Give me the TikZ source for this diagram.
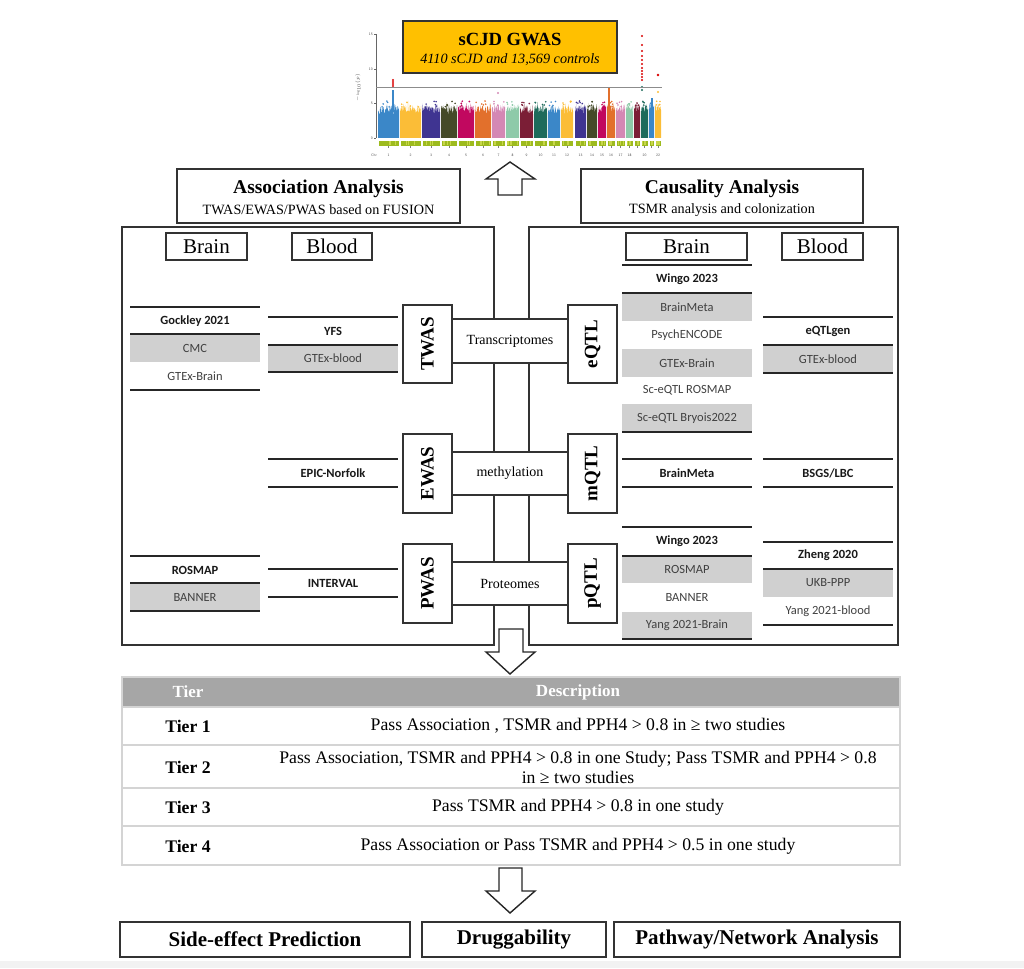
\documentclass[tikz,border=0pt]{standalone}
\usepackage{fontspec}
\setmainfont{Liberation Serif}
\newfontfamily\calib{Carlito}
\definecolor{c1}{HTML}{3B87C8}
\definecolor{c2}{HTML}{FBBD37}
\definecolor{c3}{HTML}{3F3491}
\definecolor{c4}{HTML}{454A28}
\definecolor{c5}{HTML}{C1085F}
\definecolor{c6}{HTML}{E2702C}
\definecolor{c7}{HTML}{D488B4}
\definecolor{c8}{HTML}{8ECAA9}
\definecolor{c9}{HTML}{7B1E36}
\definecolor{c10}{HTML}{1E6B5B}
\definecolor{bandc}{HTML}{9DBB1E}
\definecolor{bandl}{HTML}{C8D64A}
\definecolor{gwasfill}{HTML}{FFC000}
\definecolor{hdrgray}{HTML}{A6A6A6}
\definecolor{rulegray}{HTML}{D4D4D4}
\definecolor{cellgray}{HTML}{D0D0D0}
\newcommand\fsz[2]{\fontsize{#1}{#2}\selectfont}
\begin{document}
\begin{tikzpicture}[x=1pt,y=-1pt,
  box/.style={draw=black!80, line width=1.4pt, fill=white, inner sep=0pt},
  panel/.style={draw=black!80, line width=1.5pt},
  dline/.style={draw=black!85, line width=1.4pt},
  dset/.style={font=\calib\fsz{12.5}{14}, text=black!75},
  dsetb/.style={font=\calib\bfseries\fsz{12.5}{14}, text=black!90},
  omicsv/.style={font=\bfseries\fsz{19}{20}, rotate=90},
  omicsh/.style={font=\fsz{14}{16}},
  tissue/.style={font=\fsz{21}{23}},
  arrowst/.style={draw=black!85, line width=1.4pt, fill=white, line join=miter},
  tabtxt/.style={font=\fsz{17.7}{20}, align=center},
  tabtier/.style={font=\bfseries\fsz{17.7}{20}},
  tiny/.style={font=\sffamily\fsz{3.6}{4}, text=black!70, inner sep=0.5pt}
]
\useasboundingbox (0,0) rectangle (1024,968);
\fill[black!5] (0,961) rectangle (1024,968);

% ---------------- Manhattan plot ----------------
\pgfmathsetseed{11}
\foreach \xa/\xb/\cc in {378/399/c1,400/421/c2,422/440/c3,441/457/c4,458/474/c5,475/491/c6,492/505/c7,506/519/c8,520/533/c9,534/547/c10,548/560/c1,561/573/c2,575/586/c3,587/597/c4,598/606/c5,607/615/c6,616/625/c7,626/633/c8,634/640/c9,641/648/c10,649/654/c1,655/661/c2}{
  \fill[\cc] (\xa,138) \foreach \k in {0,...,60}{ -- ({\xa+\k*(\xb-\xa)/60},{138-23-9*rnd-9*rnd*rnd*rnd}) } -- (\xb,138) -- cycle;
  \foreach \j in {1,...,5}{ \fill[\cc] ({\xa+1+rnd*(\xb-\xa-2)},{138-31-6*rnd}) circle (0.9); }
  \fill[bandc] (\xa+0.5,141) rectangle (\xb-0.5,146);
  \foreach \j in {1,...,3}{ \fill[bandl] ({\xa+1+rnd*(\xb-\xa-3)},141.5) rectangle ++(1.2,4); }
  \draw[black!50, line width=0.3pt] ({(\xa+\xb)/2},146) -- ({(\xa+\xb)/2},148.5);
}
% extra peaks
\draw[c1, line width=1.6pt] (393,112) -- (393,90);
\foreach \yy in {80,82,84,86}{\fill[red!85!black] (393,\yy) circle (1.1);}
\fill[c7] (498,93) circle (1.1);
\draw[c6, line width=1.4pt] (609,112) -- (609,88);
\foreach \yy in {36,45,51,56,60,64,68,71,74,77,80}{\fill[red!85!black] (642,\yy) circle (1.1);}
\fill[c10] (642,87) circle (1.1); \fill[c10] (642,90) circle (1.1);
\fill[red!85!black] (658,75) circle (1.3);
\fill[c2] (658,92) circle (1.1);
\draw[c1, line width=1.3pt] (652,112) -- (652,98);
% axes
\draw[black!60, line width=0.4pt] (376,34) -- (376,138);
\foreach \yy/\lab in {34/15,69/10,103/5,138/0}{
  \draw[black!60, line width=0.4pt] (374,\yy) -- (376,\yy);
  \node[tiny, anchor=east] at (373.5,\yy) {\lab};
}
\draw[black!45, line width=0.5pt] (376,87) -- (662,87);
\node[tiny, rotate=90] at (358,88) {$-\log_{10}(p)$};
\node[tiny] at (374,155) {Chr};
\foreach \xa/\xb/\lab in {378/399/1,400/421/2,422/440/3,441/457/4,458/474/5,475/491/6,492/505/7,506/519/8,520/533/9,534/547/10,548/560/11,561/573/12,575/586/13,587/597/14,598/606/15,607/615/16,616/625/17,626/633/18,641/648/20,655/661/22}{
  \node[tiny] at ({(\xa+\xb)/2},155) {\lab};
}

% GWAS box
\node[draw=black!80, line width=1.5pt, fill=gwasfill, minimum width=214pt, minimum height=52pt, inner sep=0pt] (gwas) at (510,47) {};
\node[font=\bfseries\fsz{18.6}{20}] (gwast) at (510,39) {sCJD GWAS};
\node[font=\itshape\fsz{14.2}{16}] (gwass) at (510,60) {4110 sCJD and 13,569 controls};

% up arrow
\draw[arrowst] (498,195) -- (498,179) -- (486,179) -- (510,162) -- (535,179) -- (522,179) -- (522,195) -- cycle;

% analysis boxes
\node[box, minimum width=283pt, minimum height=54pt] (assoc) at (318.5,196) {};
\node[font=\bfseries\fsz{19.5}{21}] at (318.5,189) {Association Analysis};
\node[font=\fsz{14.2}{16}] at (318.5,210) {TWAS/EWAS/PWAS based on FUSION};
\node[box, minimum width=282pt, minimum height=54pt] (caus) at (722,196) {};
\node[font=\bfseries\fsz{19.5}{21}] at (722,189) {Causality Analysis};
\node[font=\fsz{14.2}{16}] at (722,210) {TSMR analysis and colonization};

% panels
\draw[panel] (122,227) rectangle (494,645);
\draw[panel] (529,227) rectangle (898,645);

% tissue labels
\node[box, minimum width=81pt, minimum height=27pt, tissue] (brainL) at (206.5,246.5) {Brain};
\node[box, minimum width=80pt, minimum height=27pt, tissue] (bloodL) at (332,246.5) {Blood};
\node[box, minimum width=121pt, minimum height=27pt, tissue] (brainR) at (686.5,246.5) {Brain};
\node[box, minimum width=81pt, minimum height=27pt, tissue] (bloodR) at (822.5,246.5) {Blood};

% omics boxes
\node[box, minimum width=49pt, minimum height=78pt] (twas) at (427.5,344) {};
\node[omicsv] at (twas.center) {TWAS};
\node[box, minimum width=116pt, minimum height=44pt, omicsh] (trans) at (510,341) {Transcriptomes};
\node[box, minimum width=49pt, minimum height=78pt] (eqtl) at (592.5,344) {};
\node[omicsv] at (eqtl.center) {eQTL};

\node[box, minimum width=49pt, minimum height=79pt] (ewas) at (427.5,473.5) {};
\node[omicsv] at (ewas.center) {EWAS};
\node[box, minimum width=116pt, minimum height=43pt, omicsh] (meth) at (510,473.5) {methylation};
\node[box, minimum width=49pt, minimum height=79pt] (mqtl) at (592.5,473.5) {};
\node[omicsv] at (mqtl.center) {mQTL};

\node[box, minimum width=49pt, minimum height=79pt] (pwas) at (427.5,583.5) {};
\node[omicsv] at (pwas.center) {PWAS};
\node[box, minimum width=116pt, minimum height=43pt, omicsh] (prot) at (510,583.5) {Proteomes};
\node[box, minimum width=49pt, minimum height=79pt] (pqtl) at (592.5,583.5) {};
\node[omicsv] at (pqtl.center) {pQTL};

% ---------- datasets: left brain (130-260) ----------
\fill[cellgray] (130,334) rectangle (260,362);
\draw[dline] (130,307) -- (260,307); \draw[dline] (130,334) -- (260,334); \draw[dline] (130,390) -- (260,390);
\node[dsetb] (gock) at (195,321) {Gockley 2021};
\node[dset] (cmc) at (195,348) {CMC};
\node[dset] (gtexbL) at (195,376) {GTEx-Brain};

\fill[cellgray] (130,583) rectangle (260,611);
\draw[dline] (130,556) -- (260,556); \draw[dline] (130,583) -- (260,583); \draw[dline] (130,611) -- (260,611);
\node[dsetb] (rosL) at (195,570) {ROSMAP};
\node[dset] (banL) at (195,597) {BANNER};

% ---------- left blood (268-398) ----------
\fill[cellgray] (268,345) rectangle (398,372);
\draw[dline] (268,317) -- (398,317); \draw[dline] (268,345) -- (398,345); \draw[dline] (268,372) -- (398,372);
\node[dsetb] (yfs) at (333,331) {YFS};
\node[dset] (gtexblL) at (333,358.5) {GTEx-blood};

\draw[dline] (268,459) -- (398,459); \draw[dline] (268,487) -- (398,487);
\node[dsetb] (epic) at (333,473) {EPIC-Norfolk};

\draw[dline] (268,569) -- (398,569); \draw[dline] (268,597) -- (398,597);
\node[dsetb] (interval) at (333,583) {INTERVAL};

% ---------- right brain (622-752) ----------
\fill[cellgray] (622,293) rectangle (752,321);
\fill[cellgray] (622,349) rectangle (752,377);
\fill[cellgray] (622,404) rectangle (752,432);
\draw[dline] (622,265) -- (752,265); \draw[dline] (622,293) -- (752,293); \draw[dline] (622,432) -- (752,432);
\node[dsetb] (wingoE) at (687,279) {Wingo 2023};
\node[dset] (bmeta) at (687,307) {BrainMeta};
\node[dset] (psych) at (687,335) {PsychENCODE};
\node[dset] (gtexbR) at (687,363) {GTEx-Brain};
\node[dset] (scros) at (687,390.5) {Sc-eQTL ROSMAP};
\node[dset] (scbry) at (687,418) {Sc-eQTL Bryois2022};

\draw[dline] (622,459) -- (752,459); \draw[dline] (622,487) -- (752,487);
\node[dsetb] (bmetaM) at (687,473) {BrainMeta};

\fill[cellgray] (622,556) rectangle (752,583);
\fill[cellgray] (622,612) rectangle (752,639);
\draw[dline] (622,527) -- (752,527); \draw[dline] (622,556) -- (752,556); \draw[dline] (622,639) -- (752,639);
\node[dsetb] (wingoP) at (687,541.5) {Wingo 2023};
\node[dset] (rosR) at (687,569.5) {ROSMAP};
\node[dset] (banR) at (687,597.5) {BANNER};
\node[dset] (yangB) at (687,625.5) {Yang 2021-Brain};

% ---------- right blood (763-893) ----------
\fill[cellgray] (763,345) rectangle (893,373);
\draw[dline] (763,317) -- (893,317); \draw[dline] (763,345) -- (893,345); \draw[dline] (763,373) -- (893,373);
\node[dsetb] (eqtlgen) at (828,331) {eQTLgen};
\node[dset] (gtexblR) at (828,359) {GTEx-blood};

\draw[dline] (763,459) -- (893,459); \draw[dline] (763,487) -- (893,487);
\node[dsetb] (bsgs) at (828,473) {BSGS/LBC};

\fill[cellgray] (763,569) rectangle (893,597);
\draw[dline] (763,542) -- (893,542); \draw[dline] (763,569) -- (893,569); \draw[dline] (763,625) -- (893,625);
\node[dsetb] (zheng) at (828,555.5) {Zheng 2020};
\node[dset] (ukb) at (828,583) {UKB-PPP};
\node[dset] (yangbl) at (828,611) {Yang 2021-blood};

% down arrow 1
\draw[arrowst] (499,629) -- (523,629) -- (523,652) -- (535,652) -- (510,674) -- (486,652) -- (499,652) -- cycle;

% ---------------- table ----------------
\fill[hdrgray] (122,677) rectangle (900,707);
\draw[rulegray, line width=1.5pt] (122,677) rectangle (900,865);
\foreach \yy in {707,745,788,826}{\draw[rulegray, line width=1.8pt] (122,\yy) -- (900,\yy);}
\node[font=\bfseries\fsz{17}{20}, text=white] (hTier) at (188,692) {Tier};
\node[font=\bfseries\fsz{17}{20}, text=white] (hDesc) at (578,692) {Description};
\node[tabtier] (t1) at (188,726) {Tier 1};
\node[tabtxt] (d1) at (578,726) {Pass Association , TSMR and PPH4 > 0.8 in ≥ two studies};
\node[tabtier] (t2) at (188,767) {Tier 2};
\node[tabtxt] (d2) at (578,767) {Pass Association, TSMR and PPH4 > 0.8 in one Study; Pass TSMR and PPH4 > 0.8\\in ≥ two studies};
\node[tabtier] (t3) at (188,807) {Tier 3};
\node[tabtxt] (d3) at (578,807) {Pass TSMR and PPH4 > 0.8 in one study};
\node[tabtier] (t4) at (188,846) {Tier 4};
\node[tabtxt] (d4) at (578,846) {Pass Association or Pass TSMR and PPH4 > 0.5 in one study};

% down arrow 2
\draw[arrowst] (499,868) -- (522,868) -- (522,891) -- (535,891) -- (510,913) -- (486,891) -- (499,891) -- cycle;

% bottom boxes
\node[box, minimum width=290pt, minimum height=35pt, font=\bfseries\fsz{21}{23}] (side) at (265,939.5) {Side-effect Prediction};
\node[box, minimum width=184pt, minimum height=35pt, font=\bfseries\fsz{21}{23}] (drug) at (514,939.5) {Druggability};
\node[box, minimum width=286pt, minimum height=35pt, font=\bfseries\fsz{21}{23}] (path) at (757,939.5) {Pathway/Network Analysis};
\end{tikzpicture}
\end{document}
